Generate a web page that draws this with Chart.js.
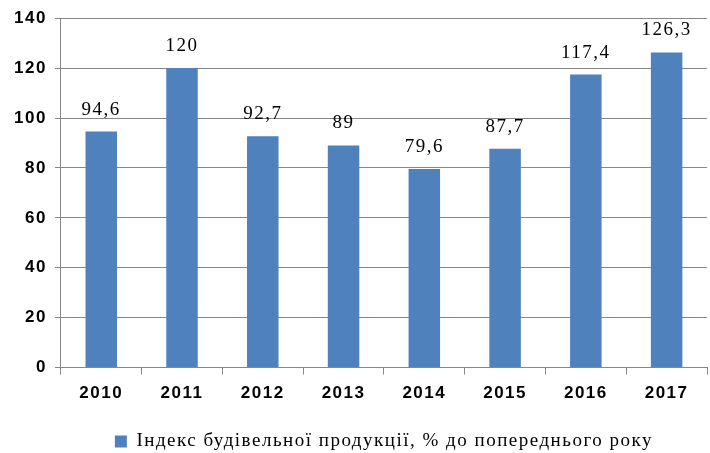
<!DOCTYPE html>
<html>
<head>
<meta charset="utf-8">
<script src="https://cdn.jsdelivr.net/npm/chart.js@4.4.0/dist/chart.umd.min.js"></script>
<style>
  html, body { margin: 0; padding: 0; background: #fff; }
  #wrap { width: 710px; height: 453px; }
</style>
</head>
<body>
<div id="wrap"><canvas id="chart" width="710" height="453"></canvas></div>
<script>
// chart data
const years = ['2010', '2011', '2012', '2013', '2014', '2015', '2016', '2017'];
const indexValues = [94.6, 120, 92.7, 89, 79.6, 87.7, 117.4, 126.3];
const valueLabels = ['94,6', '120', '92,7', '89', '79,6', '87,7', '117,4', '126,3'];
const seriesName = 'Індекс будівельної продукції, % до попереднього року';

const gridColor = '#878787';
const barColor = '#4F81BD';

// wider letter spacing, like the original rendering
const spacing = {
  id: 'spacing',
  beforeUpdate(chart) { chart.ctx.letterSpacing = '1.5px'; },
  beforeLayout(chart) { chart.ctx.letterSpacing = '1.5px'; },
  beforeDraw(chart) { chart.ctx.letterSpacing = '1.5px'; },
};

// draws the value above each bar
const barLabels = {
  id: 'barLabels',
  afterDatasetsDraw(chart) {
    const ctx = chart.ctx;
    const meta = chart.getDatasetMeta(0);
    ctx.save();
    ctx.font = '19px "Liberation Serif"';
    ctx.fillStyle = '#000';
    ctx.textAlign = 'center';
    ctx.textBaseline = 'alphabetic';
    meta.data.forEach((bar, i) => {
      ctx.fillText(valueLabels[i], bar.x, bar.y - 17);
    });
    ctx.restore();
  },
};

new Chart(document.getElementById('chart'), {
  type: 'bar',
  data: {
    labels: years,
    datasets: [{
      label: seriesName,
      data: indexValues,
      backgroundColor: barColor,
      barPercentage: 0.39,
      categoryPercentage: 1,
    }],
  },
  options: {
    responsive: false,
    animation: false,
    layout: { padding: { left: 6, right: 3, top: 10, bottom: -8 } },
    plugins: {
      tooltip: { enabled: false },
      legend: {
        position: 'bottom',
        fullSize: false,
        labels: {
          color: '#000',
          font: { family: '"Liberation Serif"', size: 19 },
          boxWidth: 12,
          boxHeight: 12,
          padding: 4,
        },
      },
    },
    scales: {
      y: {
        min: 0,
        max: 140,
        ticks: {
          stepSize: 20,
          color: '#000',
          padding: 8,
          font: { family: '"Liberation Sans"', size: 17, weight: 'bold' },
        },
        grid: { color: gridColor, tickLength: 6 },
        border: { color: gridColor },
      },
      x: {
        afterFit(scale) { scale.height += 15; },
        ticks: {
          color: '#000',
          padding: 9,
          font: { family: '"Liberation Sans"', size: 17, weight: 'bold' },
        },
        grid: { color: gridColor, drawOnChartArea: false, tickLength: 7 },
        border: { color: gridColor },
      },
    },
  },
  plugins: [spacing, barLabels],
});
</script>
</body>
</html>
